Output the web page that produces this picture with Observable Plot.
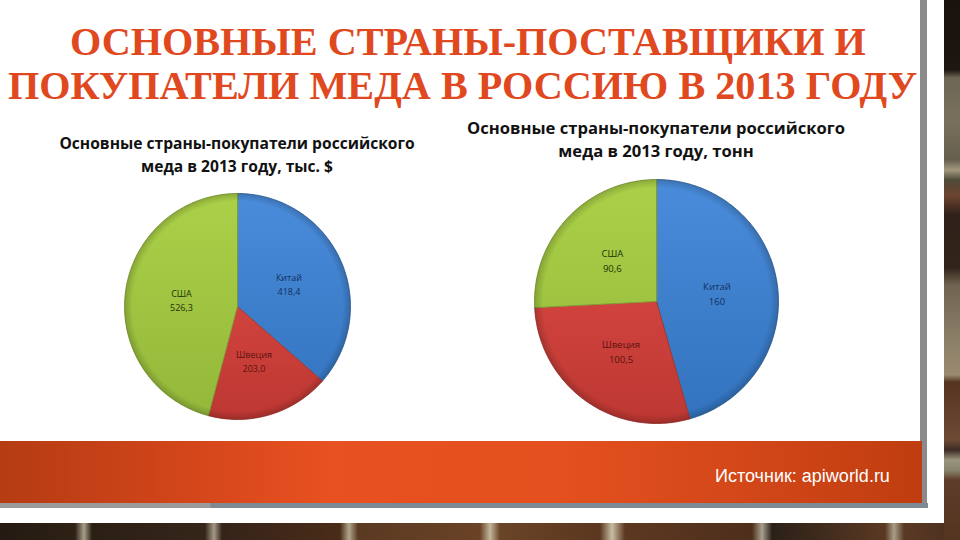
<!DOCTYPE html>
<html lang="ru">
<head>
<meta charset="utf-8">
<script src="https://cdn.jsdelivr.net/npm/d3@7"></script>
<script src="https://cdn.jsdelivr.net/npm/@observablehq/plot@0.6"></script>
<style>
html,body{margin:0;padding:0;width:960px;height:540px;overflow:hidden}
body{position:relative;font-family:"Liberation Sans",sans-serif;background:#2b1d15}
#sideBrick{position:absolute;left:944px;top:0;width:16px;height:540px;
 background:linear-gradient(180deg,#19120d 0,#1e1610 70px,#6e6756 78px,#79705c 120px,#665f4e 160px,#a39a80 170px,#4e4a38 180px,#6d4430 195px,#2f2119 215px,#33241a 268px,#6f6450 285px,#8a8068 340px,#9a8a70 375px,#55341f 382px,#6d4a34 440px,#3d2a24 450px,#9a957c 460px,#8a866e 470px,#5e3d2a 480px,#53351f 540px)}
#bottomBrick{position:absolute;left:0;top:523px;width:944px;height:17px;
 background:linear-gradient(90deg,#241a12 0,#2e2115 75px,#a89f8a 84px,#2b1e13 92px,#35261a 205px,#a49a85 214px,#35231a 222px,#4a2c18 340px,#b0a68c 349px,#5a3a22 358px,#6a4226 480px,#c2b69c 490px,#6a4426 500px,#5b3720 600px,#c8bda4 612px,#5c3820 625px,#4e2f1c 752px,#a8a08c 762px,#2b2018 772px,#5a3922 885px,#a89e88 894px,#5a3a24 904px,#4e3220 944px)}
#card{position:absolute;left:0;top:0;width:944px;height:523px;background:#fff}
#shadowV{position:absolute;left:920px;top:0;width:7px;height:508px;background:#8a8a8a}
#shadowH{position:absolute;left:0;top:503px;width:928px;height:5px;background:linear-gradient(90deg,#9b9b9b 0,#9b9b9b 210px,#7d8a94 211px,#7d8a94 928px)}
#band{position:absolute;left:0;top:441px;width:922px;height:62px;
 background:linear-gradient(90deg,#b53c13 0,#d2451a 180px,#e85121 330px,#e4501f 560px,#cf4517 780px,#bf3d10 922px)}
#source{position:absolute;left:715px;top:466px;font:18px/20px "Liberation Sans",sans-serif;color:#fff;white-space:nowrap;margin:0}
h1{position:absolute;left:0;top:0;margin:0;font:bold 40.2px "Liberation Serif",serif;color:#e0491f;white-space:nowrap}
#t1{left:70px;top:18px}
#t2{left:8px;top:62px}
.sub{position:absolute;margin:0;font:bold 15.5px/23px "Open Sans",sans-serif;color:#111;text-align:center;white-space:nowrap;transform:translateX(-50%)}
#s1{left:237px;top:132px;font-size:15.6px}
#s2{left:656px;top:116px;font-size:16.6px}
</style>
</head>
<body>
<div id="sideBrick"></div>
<div id="bottomBrick"></div>
<div id="card"></div>
<div id="shadowV"></div>
<div id="shadowH"></div>
<div id="band"></div>
<p id="source"></p>
<h1 id="t1"></h1>
<h1 id="t2"></h1>
<p class="sub" id="s1"></p>
<p class="sub" id="s2"></p>
<script>
const titleLines = ["ОСНОВНЫЕ СТРАНЫ-ПОСТАВЩИКИ И", "ПОКУПАТЕЛИ МЕДА В РОССИЮ В 2013 ГОДУ"];
const sourceText = "Источник: apiworld.ru";
const subtitleUsd = "Основные страны-покупатели российского\nмеда в 2013 году, тыс. $";
const subtitleTons = "Основные страны-покупатели российского\nмеда в 2013 году, тонн";

const countries = ["Китай", "Швеция", "США"];
const usdValues = [418.4, 203.0, 526.3];
const usdLabels = ["418,4", "203,0", "526,3"];
const tonValues = [160, 100.5, 90.6];
const tonLabels = ["160", "100,5", "90,6"];

const sliceTop = ["#4a8cdb", "#e44f49", "#abd048"];
const sliceBottom = ["#3272bd", "#bd3732", "#93b83a"];
const sliceEdge = ["#2f5f98", "#9a2f2b", "#7a9530"];
const labelColors = ["#12305c", "#5a1210", "#1e3308"];

function setText(id, text) {
  const el = document.getElementById(id);
  text.split("\n").forEach((line, i) => {
    if (i) el.appendChild(document.createElement("br"));
    el.appendChild(document.createTextNode(line));
  });
}
setText("t1", titleLines[0]);
setText("t2", titleLines[1]);
setText("source", sourceText);
setText("s1", subtitleUsd);
setText("s2", subtitleTons);

function pieChart({id, values, labels, cx, cy, radius, labelAt, fontSize}) {
  const size = Math.round(radius * 2 + 14);
  const extent = size / 2 / radius;
  const arcs = d3.pie().sort(null)(values);
  const outline = [];
  arcs.forEach((a, i) => {
    const name = countries[i];
    outline.push({name, x: 0, y: 0, i});
    const steps = Math.ceil((a.endAngle - a.startAngle) / 0.02);
    d3.range(steps + 1).forEach(s => {
      const t = a.startAngle + (a.endAngle - a.startAngle) * s / steps;
      outline.push({name, x: Math.sin(t), y: Math.cos(t), i});
    });
  });
  const labelRows = arcs.map((a, i) => {
    const mid = (a.startAngle + a.endAngle) / 2;
    return {text: countries[i] + "\n" + labels[i], x: labelAt * Math.sin(mid), y: labelAt * Math.cos(mid), color: labelColors[i]};
  });
  const defs = () => {
    const g = document.createElementNS("http://www.w3.org/2000/svg", "defs");
    g.innerHTML = countries.map((c, i) =>
      `<linearGradient id="${id}-s${i}" gradientUnits="userSpaceOnUse" x1="0" y1="${size/2 - radius}" x2="0" y2="${size/2 + radius}">
         <stop offset="0" stop-color="${sliceTop[i]}"/><stop offset="1" stop-color="${sliceBottom[i]}"/>
       </linearGradient>`).join("") +
      `<radialGradient id="${id}-rim" gradientUnits="userSpaceOnUse" cx="${size/2}" cy="${size/2}" r="${radius}">
         <stop offset="0.93" stop-color="#000" stop-opacity="0"/><stop offset="1" stop-color="#000" stop-opacity="0.18"/>
       </radialGradient>`;
    return g;
  };
  const plot = Plot.plot({
    width: size, height: size, margin: 0,
    x: {axis: null, domain: [-extent, extent]},
    y: {axis: null, domain: [-extent, extent]},
    style: {background: "transparent", position: "absolute", left: (cx - size / 2) + "px", top: (cy - size / 2) + "px"},
    marks: [
      defs,
      ...countries.map((c, i) => Plot.line(outline.filter(d => d.i === i), {
        x: "x", y: "y", fill: `url(#${id}-s${i})`, stroke: sliceEdge[i], strokeWidth: 0.8, curve: "linear-closed"
      })),
      ...countries.map((c, i) => Plot.line(outline.filter(d => d.i === i), {
        x: "x", y: "y", fill: `url(#${id}-rim)`, stroke: "none", curve: "linear-closed"
      })),
      Plot.text(labelRows, {
        x: "x", y: "y", text: "text", fill: "color", fontSize, lineHeight: 1.55,
        fontFamily: "'Open Sans',sans-serif"
      })
    ]
  });
  document.body.appendChild(plot);
}

pieChart({id: "usd", values: usdValues, labels: usdLabels, cx: 237, cy: 305.5, radius: 113, labelAt: 0.5, fontSize: 9});
pieChart({id: "ton", values: tonValues, labels: tonLabels, cx: 655.5, cy: 300.5, radius: 122, labelAt: 0.5, fontSize: 9.5});
</script>
</body>
</html>
